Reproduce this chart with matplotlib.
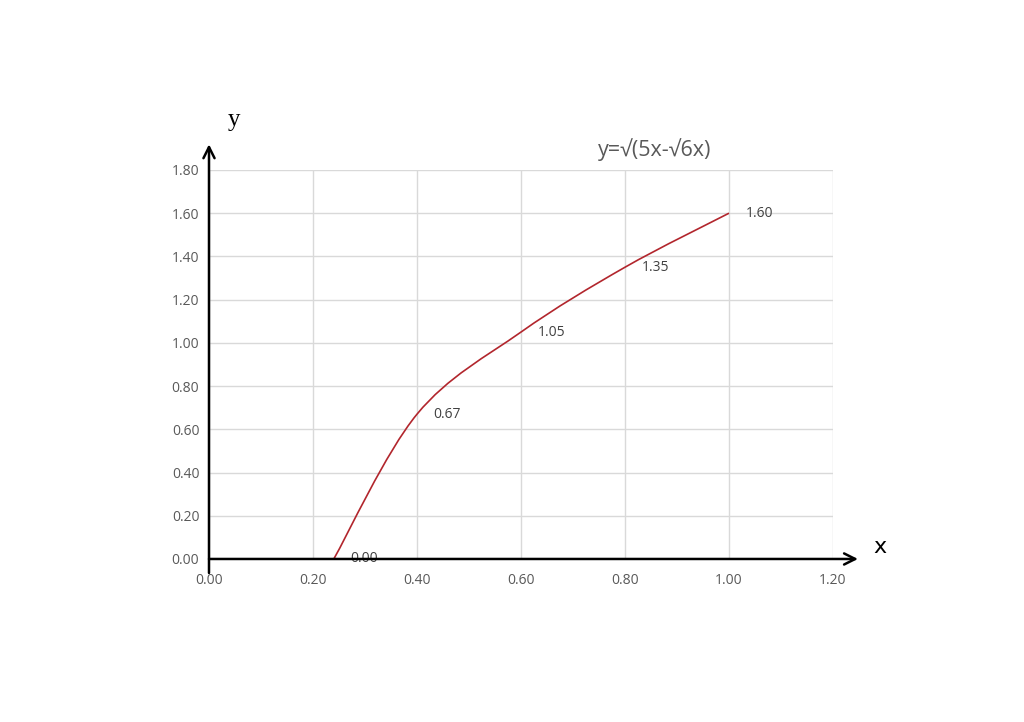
import numpy as np
import matplotlib.pyplot as plt
from matplotlib.path import Path
from matplotlib.patches import PathPatch

# data points of y = sqrt(5x - sqrt(6x))
x_vals = [0.24, 0.40, 0.60, 0.80, 1.00]
y_vals = [0.00, 0.67, 1.05, 1.35, 1.60]
labels = ['0.00', '0.67', '1.05', '1.35', '1.60']
x_ticks = [0.0, 0.2, 0.4, 0.6, 0.8, 1.0, 1.2]
y_ticks = [0.0, 0.2, 0.4, 0.6, 0.8, 1.0, 1.2, 1.4, 1.6, 1.8]

plt.rcParams['font.family'] = ['Open Sans', 'DejaVu Sans']

fig = plt.figure(figsize=(10.24, 7.22), dpi=100)
ax = fig.add_axes([0.2041, 0.2258, 0.6094, 0.5388])
ax.set_xlim(0, 1.2)
ax.set_ylim(0, 1.8)
ax.set_xticks(x_ticks)
ax.set_yticks(y_ticks)
ax.set_xticklabels(['%.2f' % t for t in x_ticks])
ax.set_yticklabels(['%.2f' % t for t in y_ticks])
ax.tick_params(length=0, labelsize=10, colors='#595959')
ax.tick_params(axis='x', pad=10)
ax.tick_params(axis='y', pad=7)
ax.grid(True, color='#d9d9d9', lw=1)
ax.set_axisbelow(True)
for s in ax.spines.values():
    s.set_visible(False)

# smooth line like Excel: cubic bezier segments through the points
pts = np.column_stack([x_vals, y_vals])
n = len(pts)
verts = [pts[0]]
codes = [Path.MOVETO]
for i in range(n - 1):
    p0 = pts[max(i - 1, 0)]
    p1 = pts[i]
    p2 = pts[i + 1]
    p3 = pts[min(i + 2, n - 1)]
    c1 = p1 + (p2 - p0) / 6
    c2 = p2 - (p3 - p1) / 6
    verts += [c1, c2, p2]
    codes += [Path.CURVE4] * 3
ax.add_patch(PathPatch(Path(verts, codes), fill=False, ec='#b2262d', lw=1.2))

for xv, yv, lab in zip(x_vals, y_vals, labels):
    ax.annotate(lab, (xv, yv), xytext=(12, 0), textcoords='offset points',
                va='center', ha='left', fontsize=10, color='#404040')

# axis arrows
ax.annotate('', xy=(1.04, 0), xytext=(0, 0), xycoords='axes fraction',
            arrowprops=dict(arrowstyle='->', lw=1.8, color='black',
                            mutation_scale=20, shrinkA=0, shrinkB=0))
ax.annotate('', xy=(0, 1.066), xytext=(0, -0.036), xycoords='axes fraction',
            arrowprops=dict(arrowstyle='->', lw=1.8, color='black',
                            mutation_scale=20, shrinkA=0, shrinkB=0))
fig.text(234 / 1024, 1 - 120 / 722, 'y', family='Liberation Serif',
         fontsize=18, ha='center', va='center')
fig.text(880 / 1024, 1 - 547 / 722, 'x', family='DejaVu Sans',
         fontsize=16, ha='center', va='center')
fig.text(655 / 1024, 1 - 150 / 722, 'y=√(5x-√6x)', fontsize=15.5,
         color='#595959', ha='center', va='center')

plt.savefig('out.png', dpi=100)
